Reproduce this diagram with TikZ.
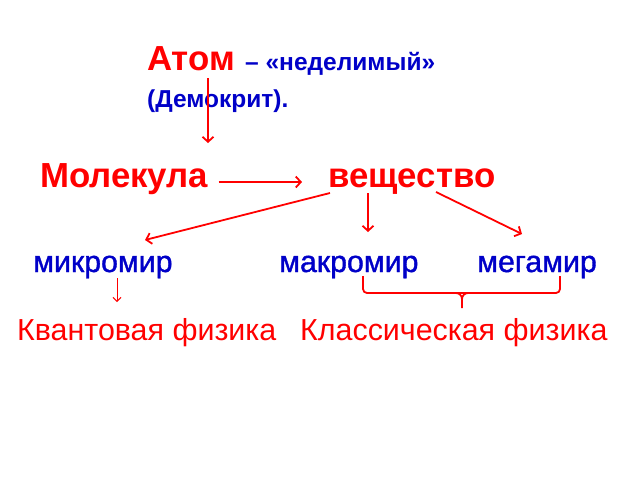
\documentclass[tikz,border=0pt]{standalone}
\usepackage{fontspec}
\setmainfont{Liberation Sans}
\newfontfamily\worldfont[FakeBold=1.2]{Liberation Sans}
\usetikzlibrary{positioning,arrows.meta}
\definecolor{redink}{RGB}{255,0,0}
\definecolor{blueink}{RGB}{0,0,200}
\tikzset{
  big/.style={text=redink, font=\bfseries\fontsize{34.8}{38}\selectfont, inner sep=0pt, anchor=base west},
  note/.style={text=blueink, font=\bfseries\fontsize{24.5}{28}\selectfont, inner sep=0pt, anchor=base west},
  world/.style={text=blueink, font=\worldfont\fontsize{30.3}{34}\selectfont, inner sep=0pt, anchor=base west},
  physics/.style={text=redink, font=\fontsize{30.4}{34}\selectfont, inner sep=0pt, anchor=base west},
  link/.style={draw=redink, line width=1.8pt, -{Straight Barb[length=5pt,width=11pt]}},
  thinlink/.style={draw=redink, line width=1pt, -{Straight Barb[length=4pt,width=8pt]}},
  bracket/.style={draw=redink, line width=1.8pt},
}
\begin{document}
\begin{tikzpicture}[x=1pt,y=-1pt]
  \useasboundingbox (0,0) rectangle (640,480);
  % texts
  \node[big] (atom) at (147,70) {Атом};
  \node[note] (atomdef) at (245,70) {– «неделимый»};
  \node[note] (demokrit) at (147,107) {(Демокрит).};
  \node[big] (molecule) at (40,187) {Молекула};
  \node[big] (substance) at (328,187) {вещество};
  \node[world] (micro) at (33,272) {микромир};
  \node[world] (macro) at (279,272) {макромир};
  \node[world] (mega) at (477,272) {мегамир};
  \node[physics] (quantum) at (17,340) {Квантовая физика};
  \node[physics] (classic) at (300,340) {Классическая физика};
  % free ends
  \coordinate (atomfoot) at (208,78);
  \coordinate (atomtip) at (208,143);
  \coordinate (microtip) at (145,240);
  \coordinate (macrotip) at (368,232);
  \coordinate (megatip) at (522,234);
  \coordinate (quanttip) at (117,302);
  % arrows
  \draw[link] (atomfoot) -- (atomtip);
  \draw[link] ([shift={(10,-5)}]molecule.base east) -- ([shift={(-26,-5)}]substance.base west);
  \draw[link] ([shift={(2,6)}]substance.base west) -- (microtip);
  \draw[link] ([shift={(40,6)}]substance.base west) -- (macrotip);
  \draw[link] ([shift={(108,5)}]substance.base west) -- (megatip);
  \draw[thinlink] (117,278) -- (quanttip);
  % brace
  \draw[bracket, rounded corners=4pt] (363,276) |- (462,293) -| (560,276);
  \draw[bracket] (456,293) to[out=0,in=90] (462,299) -- (462,308);
  \draw[bracket] (468,293) to[out=180,in=90] (462,299);
\end{tikzpicture}
\end{document}
